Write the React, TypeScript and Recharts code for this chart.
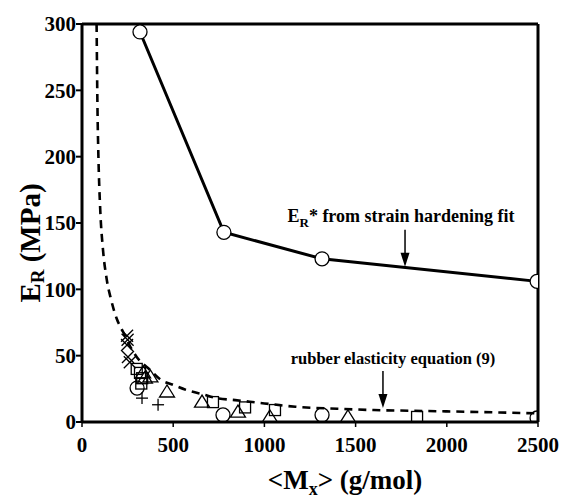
import { ComposedChart, Line, Scatter, XAxis, YAxis, ReferenceLine, ReferenceDot } from "recharts"

// E_R* from strain hardening fit
const fitMx = [318, 778, 1316, 2495]
const fitEr = [294, 143, 123, 106]

// rubber elasticity equation (9)
const rubberMx = [80, 85, 90, 100, 115, 135, 160, 190, 225, 260, 300, 375, 430, 500, 575, 660, 740, 840, 1000, 1170, 1400, 1600, 1800, 2000, 2250, 2500]
const rubberEr = [300, 235, 200, 160, 130, 108, 92, 78, 68, 58, 49, 39, 32, 28, 24, 21, 18, 16.5, 14, 11.5, 10, 9, 8.5, 8, 7.3, 6.5]

// experimental points by symbol
const circleMx = [302, 773, 1316, 2495]
const circleEr = [25.6, 5.3, 5.3, 3]
const squareMx = [300, 318, 330, 325, 718, 894, 1058, 1837]
const squareEr = [40, 37, 33, 29, 15, 11, 9, 3.8]
const triangleMx = [335, 345, 375, 466, 658, 855, 1030, 1458]
const triangleEr = [37, 33, 34, 22.6, 15, 7.5, 3.8, 3.8]
const crossMx = [247, 250, 247, 252, 262]
const crossEr = [65, 62, 58, 49, 45]
const plusMx = [329, 417]
const plusEr = [18, 13]

const xTicks = [0, 500, 1000, 1500, 2000, 2500]
const yTicks = [0, 50, 100, 150, 200, 250, 300]

const zip = (xs: number[], ys: number[]) => xs.map((x, i) => ({ x, y: ys[i] }))

const FONT = '"Liberation Serif", "Times New Roman", serif'
const INK = "#000"

function CircleMark({ cx, cy }: any) {
  return <circle cx={cx} cy={cy} r={7} fill="none" stroke={INK} strokeWidth={1.3} />
}
function SquareMark({ cx, cy }: any) {
  return <rect x={cx - 5.5} y={cy - 5.5} width={11} height={11} fill="none" stroke={INK} strokeWidth={1.3} />
}
function TriangleMark({ cx, cy }: any) {
  return <polygon points={`${cx},${cy - 7} ${cx - 7.5},${cy + 5} ${cx + 7.5},${cy + 5}`} fill="none" stroke={INK} strokeWidth={1.3} />
}
function CrossMark({ cx, cy }: any) {
  return (
    <g stroke={INK} strokeWidth={1.3}>
      <line x1={cx - 6} y1={cy - 6} x2={cx + 6} y2={cy + 6} />
      <line x1={cx - 6} y1={cy + 6} x2={cx + 6} y2={cy - 6} />
    </g>
  )
}
function PlusMark({ cx, cy }: any) {
  return (
    <g stroke={INK} strokeWidth={1.3}>
      <line x1={cx - 6} y1={cy} x2={cx + 6} y2={cy} />
      <line x1={cx} y1={cy - 6} x2={cx} y2={cy + 6} />
    </g>
  )
}

// arrow pointing down, tip at (cx, cy)
function Arrow({ cx, cy }: any) {
  return (
    <g>
      <line x1={cx} y1={cy - 37} x2={cx} y2={cy - 12} stroke={INK} strokeWidth={1.5} />
      <polygon points={`${cx - 4.5},${cy - 14} ${cx + 4.5},${cy - 14} ${cx},${cy}`} fill={INK} />
    </g>
  )
}

function RubberNote({ cx, cy }: any) {
  return (
    <text x={cx} y={cy} textAnchor="middle" fontFamily={FONT} fontWeight="bold" fontSize={16.5} fill={INK}>
      rubber elasticity equation (9)
    </text>
  )
}
function FitNote({ cx, cy }: any) {
  return (
    <text x={cx} y={cy} textAnchor="middle" fontFamily={FONT} fontWeight="bold" fontSize={18} fill={INK}>
      E<tspan fontSize={13} dy={5}>R</tspan>
      <tspan dy={-5}>* from strain hardening fit</tspan>
    </text>
  )
}

function XTitle(props: any) {
  const { x, width, y } = props.viewBox
  return (
    <text x={x + width / 2 + 35} y={y + 67} textAnchor="middle" fontFamily={FONT} fontWeight="bold" fontSize={27} fill={INK}>
      {"<M"}<tspan fontSize={18} dy={6}>x</tspan>
      <tspan dy={-6}>{"> (g/mol)"}</tspan>
    </text>
  )
}
function YTitle(props: any) {
  const { y, height } = props.viewBox
  const cx = 30
  const cy = y + height / 2 + 20
  return (
    <text x={cx} y={cy} transform={`rotate(-90 ${cx} ${cy})`} textAnchor="middle" dominantBaseline="central" fontFamily={FONT} fontWeight="bold" fontSize={29} fill={INK}>
      E<tspan fontSize={19} dy={7}>R</tspan>
      <tspan dy={-7}> (MPa)</tspan>
    </text>
  )
}

const tickStyle = { fontFamily: FONT, fontWeight: "bold", fontSize: 21, fill: INK }

export default function App() {
  return (
    <div style={{ position: "absolute", left: 0, top: 0, width: 561, height: 498, background: "#fff" }}>
      <ComposedChart width={561} height={498} margin={{ top: 24, right: 23, bottom: 0, left: 0 }}>
        <XAxis
          type="number"
          dataKey="x"
          domain={[0, 2500]}
          ticks={xTicks}
          allowDataOverflow
          height={76}
          tickSize={5}
          tickMargin={10}
          tick={tickStyle}
          axisLine={{ stroke: INK, strokeWidth: 3 }}
          tickLine={{ stroke: INK, strokeWidth: 1.5 }}
          label={{ content: XTitle }}
        />
        <YAxis
          type="number"
          dataKey="y"
          domain={[0, 300]}
          ticks={yTicks}
          allowDataOverflow
          width={82}
          tickSize={6}
          tickMargin={0}
          tick={tickStyle}
          axisLine={{ stroke: INK, strokeWidth: 3 }}
          tickLine={{ stroke: INK, strokeWidth: 2 }}
          label={{ content: YTitle }}
        />
        <ReferenceLine y={300} stroke={INK} strokeWidth={3} />
        <ReferenceLine x={2500} stroke={INK} strokeWidth={3} />

        <Line
          data={zip(rubberMx, rubberEr)}
          dataKey="y"
          type="monotone"
          stroke={INK}
          strokeWidth={2.6}
          strokeDasharray="8 6"
          dot={false}
          isAnimationActive={false}
        />
        <Scatter data={zip(circleMx, circleEr)} dataKey="y" shape={CircleMark} isAnimationActive={false} />
        <Scatter data={zip(squareMx, squareEr)} dataKey="y" shape={SquareMark} isAnimationActive={false} />
        <Scatter data={zip(triangleMx, triangleEr)} dataKey="y" shape={TriangleMark} isAnimationActive={false} />
        <Scatter data={zip(crossMx, crossEr)} dataKey="y" shape={CrossMark} isAnimationActive={false} />
        <Scatter data={zip(plusMx, plusEr)} dataKey="y" shape={PlusMark} isAnimationActive={false} />
        <Line
          data={zip(fitMx, fitEr)}
          dataKey="y"
          type="linear"
          stroke={INK}
          strokeWidth={3}
          dot={{ r: 7, fill: "#fff", stroke: INK, strokeWidth: 1.3 }}
          isAnimationActive={false}
        />

        <ReferenceDot x={1650} y={10.5} shape={Arrow} />
        <ReferenceDot x={1705} y={43.7} shape={RubberNote} />
        <ReferenceDot x={1771} y={117} shape={Arrow} />
        <ReferenceDot x={1749} y={150.7} shape={FitNote} />
      </ComposedChart>
    </div>
  )
}
